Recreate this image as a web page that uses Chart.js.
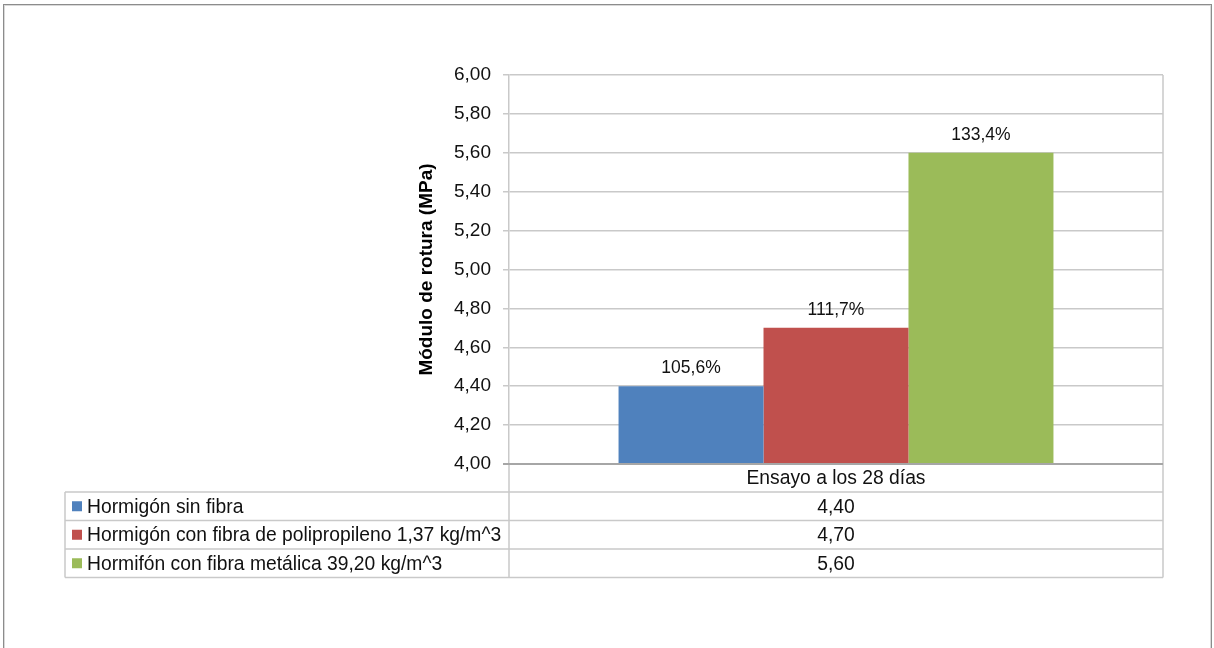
<!DOCTYPE html>
<html lang="es">
<head>
<meta charset="utf-8">
<title>Módulo de rotura</title>
<script src="https://cdn.jsdelivr.net/npm/chart.js@4.4.1/dist/chart.umd.min.js"></script>
<style>
  html, body { margin: 0; padding: 0; background: #fff; }
  #wrap { position: relative; width: 1214px; height: 648px; overflow: hidden; }
  #frame {
    position: absolute; left: 3px; top: 4px; width: 1207px; height: 660px;
    border: 1px solid #8c8c8c; box-shadow: inset 0 0 0 1px #d9d9d9;
    pointer-events: none;
  }
  canvas { position: absolute; left: 0; top: 0; }
</style>
</head>
<body>
<div id="wrap">
  <div id="frame"></div>
  <canvas id="c" width="1214" height="648"></canvas>
</div>
<script>
// Test age (single category) and the three mixes
const categories = ['Ensayo a los 28 días'];
const seriesNames = [
  'Hormigón sin fibra',
  'Hormigón con fibra de polipropileno 1,37 kg/m^3',
  'Hormifón con fibra metálica 39,20 kg/m^3'
];
const seriesValues = [
  [4.40],
  [4.70],
  [5.60]
];
// Percentage labels shown above each bar
const percentLabels = ['105,6%', '111,7%', '133,4%'];
const seriesColors = ['#4F81BD', '#C0504D', '#9BBB59'];
const yTitle = 'Módulo de rotura (MPa)';
const yMin = 4.0, yMax = 6.0, yStep = 0.2;

const FONT = "'Liberation Sans', Arial, sans-serif";
const fmt = v => v.toFixed(2).replace('.', ',');

// Labels above the bars
const barLabels = {
  id: 'barLabels',
  afterDatasetsDraw(chart) {
    const ctx = chart.ctx;
    ctx.save();
    ctx.font = '17.5px ' + FONT;
    ctx.fillStyle = '#111';
    ctx.textAlign = 'center';
    ctx.textBaseline = 'middle';
    chart.data.datasets.forEach((ds, i) => {
      chart.getDatasetMeta(i).data.forEach(bar => {
        ctx.fillText(percentLabels[i], bar.x, bar.y - 18);
      });
    });
    ctx.restore();
  }
};

// Data table under the plot, with legend keys
const dataTable = {
  id: 'dataTable',
  afterDraw(chart) {
    const ctx = chart.ctx;
    const area = chart.chartArea;
    const xs = chart.scales.x;
    const tableLeft = 65;
    const headerH = 28;
    const rowH = 28.5;
    const top = area.bottom;
    const rowsTop = top + headerH;
    const bottom = rowsTop + rowH * seriesNames.length;

    ctx.save();
    ctx.strokeStyle = '#c9c9c9';
    ctx.lineWidth = 1.5;
    ctx.beginPath();
    // horizontal rules
    for (let r = 0; r <= seriesNames.length; r++) {
      const y = rowsTop + r * rowH;
      ctx.moveTo(tableLeft, y);
      ctx.lineTo(area.right, y);
    }
    // verticals
    ctx.moveTo(tableLeft, rowsTop); ctx.lineTo(tableLeft, bottom);
    ctx.moveTo(area.left, top); ctx.lineTo(area.left, bottom);
    ctx.moveTo(area.right, area.top); ctx.lineTo(area.right, bottom);
    ctx.stroke();

    // x axis line
    ctx.strokeStyle = '#a6a6a6';
    ctx.lineWidth = 2;
    ctx.beginPath();
    ctx.moveTo(area.left - 6, top);
    ctx.lineTo(area.right, top);
    ctx.stroke();

    ctx.font = '19.3px ' + FONT;
    ctx.fillStyle = '#111';
    ctx.textBaseline = 'middle';

    // header
    ctx.textAlign = 'center';
    categories.forEach((c, ci) => {
      ctx.fillText(c, xs.getPixelForValue(ci), top + headerH / 2 + 1);
    });

    seriesNames.forEach((name, i) => {
      const cy = rowsTop + rowH * i + rowH / 2;
      ctx.fillStyle = seriesColors[i];
      ctx.fillRect(72, cy - 5, 10, 10);
      ctx.fillStyle = '#111';
      ctx.textAlign = 'left';
      ctx.fillText(name, 87, cy + 1);
      ctx.textAlign = 'center';
      seriesValues[i].forEach((v, ci) => {
        ctx.fillText(fmt(v), xs.getPixelForValue(ci), cy + 1);
      });
    });
    ctx.restore();
  }
};

new Chart(document.getElementById('c'), {
  type: 'bar',
  data: {
    labels: categories,
    datasets: seriesNames.map((name, i) => ({
      label: name,
      data: seriesValues[i],
      backgroundColor: seriesColors[i],
      borderWidth: 0,
      categoryPercentage: 0.665,
      barPercentage: 1.0
    }))
  },
  options: {
    responsive: false,
    animation: false,
    devicePixelRatio: 1,
    layout: { padding: { left: 411, top: 75, right: 51, bottom: 184 } },
    plugins: {
      legend: { display: false },
      tooltip: { enabled: false }
    },
    scales: {
      x: { display: false, offset: true },
      y: {
        min: yMin,
        max: yMax,
        afterFit(scale) { scale.width = 98; },
        ticks: {
          stepSize: yStep,
          padding: 12,
          color: '#111',
          font: { family: FONT, size: 19 },
          callback: v => fmt(v)
        },
        grid: {
          color: '#c9c9c9',
          lineWidth: 1.5,
          tickLength: 6,
          drawTicks: true
        },
        border: { display: true, color: '#c9c9c9', width: 1.5 },
        title: {
          display: true,
          text: yTitle,
          color: '#000',
          font: { family: FONT, size: 19, weight: 'bold' },
          padding: { top: 4, bottom: 4 }
        }
      }
    }
  },
  plugins: [barLabels, dataTable]
});
</script>
</body>
</html>
